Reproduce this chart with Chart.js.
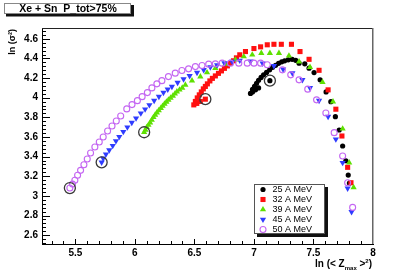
<!DOCTYPE html>
<html>
<head>
<meta charset="utf-8">
<script src="https://cdn.jsdelivr.net/npm/chart.js@4.4.1/dist/chart.umd.min.js"></script>
<style>
  html, body { margin: 0; padding: 0; background: #fff; }
</style>
</head>
<body>
<canvas id="chart" width="415" height="277"></canvas>
<script>
// tick labels
const xTicks = [5.5, 6, 6.5, 7, 7.5, 8];
const yTicks = [2.6, 2.8, 3, 3.2, 3.4, 3.6, 3.8, 4, 4.2, 4.4, 4.6];
const seriesNames = ['25 A MeV', '32 A MeV', '39 A MeV', '45 A MeV', '50 A MeV'];

// [ln(<Zmax>^2), ln(sigma^2)]
const e25 = [[7.134,4.174],[7.039,4.100],[7.013,4.080],[6.988,4.059],[6.971,4.044],[6.988,4.085],[7.005,4.115],[7.022,4.146],[7.039,4.177],[7.060,4.207],[7.081,4.233],[7.106,4.258],[7.132,4.284],[7.157,4.309],[7.182,4.330],[7.207,4.350],[7.233,4.365],[7.258,4.376],[7.288,4.386],[7.321,4.391],[7.351,4.381],[7.379,4.352],[7.427,4.345],[7.463,4.301],[7.505,4.256],[7.556,4.182],[7.606,4.059],[7.646,3.960],[7.684,3.807],[7.716,3.671],[7.745,3.508],[7.772,3.358],[7.792,3.212],[7.802,3.131]];
const e32 = [[6.592,3.985],[6.550,3.962],[6.520,3.942],[6.495,3.927],[6.508,3.962],[6.524,3.998],[6.541,4.029],[6.558,4.059],[6.575,4.090],[6.592,4.115],[6.609,4.141],[6.630,4.171],[6.651,4.197],[6.676,4.222],[6.702,4.248],[6.727,4.273],[6.752,4.299],[6.777,4.324],[6.803,4.350],[6.828,4.376],[6.853,4.406],[6.881,4.437],[6.929,4.470],[7.000,4.501],[7.056,4.518],[7.112,4.539],[7.168,4.544],[7.230,4.544],[7.315,4.544],[7.387,4.470],[7.463,4.391],[7.547,4.279],[7.623,4.080],[7.688,3.883],[7.739,3.610],[7.787,3.291],[7.815,3.134]];
const e39 = [[6.078,3.648],[6.089,3.672],[6.100,3.699],[6.114,3.722],[6.128,3.746],[6.142,3.773],[6.156,3.801],[6.170,3.825],[6.185,3.848],[6.201,3.870],[6.218,3.893],[6.233,3.915],[6.249,3.937],[6.265,3.957],[6.282,3.978],[6.300,3.998],[6.319,4.018],[6.336,4.040],[6.353,4.062],[6.375,4.081],[6.398,4.100],[6.424,4.131],[6.480,4.174],[6.550,4.215],[6.606,4.256],[6.676,4.301],[6.761,4.345],[6.845,4.386],[6.915,4.419],[6.986,4.437],[7.062,4.454],[7.134,4.454],[7.210,4.454],[7.294,4.427],[7.379,4.368],[7.471,4.311],[7.576,4.159],[7.664,3.960],[7.745,3.684],[7.800,3.338],[7.837,3.087]];
const e45 = [[5.721,3.342],[5.734,3.383],[5.757,3.424],[5.785,3.467],[5.814,3.511],[5.841,3.559],[5.869,3.603],[5.903,3.654],[5.937,3.699],[5.974,3.746],[6.010,3.791],[6.050,3.842],[6.086,3.883],[6.122,3.926],[6.162,3.970],[6.202,4.011],[6.240,4.052],[6.276,4.085],[6.311,4.113],[6.359,4.154],[6.409,4.189],[6.460,4.222],[6.522,4.256],[6.578,4.284],[6.634,4.311],[6.691,4.332],[6.752,4.352],[6.817,4.368],[6.881,4.379],[6.971,4.370],[7.073,4.350],[7.168,4.324],[7.245,4.290],[7.323,4.250],[7.407,4.182],[7.471,4.100],[7.547,3.970],[7.623,3.807],[7.688,3.577],[7.745,3.338],[7.787,3.077],[7.820,2.838]];
const e50 = [[5.454,3.080],[5.476,3.120],[5.496,3.160],[5.519,3.210],[5.544,3.260],[5.572,3.317],[5.600,3.376],[5.628,3.437],[5.664,3.498],[5.701,3.549],[5.734,3.600],[5.771,3.661],[5.808,3.712],[5.844,3.763],[5.881,3.814],[5.932,3.886],[5.976,3.930],[6.021,3.970],[6.061,4.011],[6.105,4.052],[6.143,4.100],[6.185,4.141],[6.227,4.174],[6.282,4.215],[6.339,4.250],[6.395,4.277],[6.451,4.294],[6.508,4.317],[6.564,4.328],[6.620,4.342],[6.676,4.345],[6.733,4.352],[6.803,4.352],[6.873,4.352],[6.944,4.352],[7.000,4.352],[7.056,4.352],[7.112,4.335],[7.239,4.284],[7.309,4.233],[7.379,4.182],[7.452,4.087],[7.526,3.978],[7.604,3.845],[7.674,3.644],[7.745,3.406],[7.787,3.134],[7.829,2.883]];

// circled first points
const startX = [7.134, 6.592, 6.078, 5.721, 5.454];
const startY = [4.174, 3.985, 3.648, 3.342, 3.080];

const FONT = '"Liberation Sans", Arial, Helvetica, sans-serif';

function toXY(arr) {
    return arr.map(p => ({ x: p[0], y: p[1] }));
}

const styles = [
    { pointStyle: 'circle',   pointRadius: 2.6, backgroundColor: '#000000', borderColor: '#000000', borderWidth: 0 },
    { pointStyle: 'rect',     pointRadius: 3.6, backgroundColor: '#ff1010', borderColor: '#ff1010', borderWidth: 0 },
    { pointStyle: 'triangle', pointRadius: 3.6, backgroundColor: '#5ee000', borderColor: '#5ee000', borderWidth: 0 },
    { pointStyle: 'triangle', pointRadius: 3.6, rotation: 180, backgroundColor: '#2f3cff', borderColor: '#2f3cff', borderWidth: 0 },
    { pointStyle: 'circle',   pointRadius: 3.0, backgroundColor: 'rgba(0,0,0,0)', borderColor: '#c466f2', borderWidth: 1.1 }
];

const allSeries = [e25, e32, e39, e45, e50];
const datasets = allSeries.map((s, i) => Object.assign({
    label: seriesNames[i],
    data: toXY(s),
    showLine: false,
    order: 5 - i
}, styles[i], { pointHoverRadius: styles[i].pointRadius }));

datasets.push({
    label: 'start',
    data: startX.map((x, i) => ({ x: x, y: startY[i] })),
    showLine: false,
    order: 0,
    pointStyle: 'circle',
    pointRadius: 5.5,
    backgroundColor: 'rgba(0,0,0,0)',
    borderColor: '#3a3a3a',
    borderWidth: 1.3
});

function drawMarker(ctx, st, x, y) {
    if (Chart.helpers && Chart.helpers.drawPoint) {
        ctx.save();
        ctx.fillStyle = st.backgroundColor;
        ctx.strokeStyle = st.borderColor;
        ctx.lineWidth = st.borderWidth;
        Chart.helpers.drawPoint(ctx, {
            pointStyle: st.pointStyle, radius: st.pointRadius,
            rotation: st.rotation || 0, borderWidth: st.borderWidth
        }, x, y);
        ctx.restore();
    }
}

// ROOT-like frame, inward ticks, title box, legend and axis titles
const rootDecor = {
    id: 'rootDecor',
    afterDraw(chart) {
        const ctx = chart.ctx;
        const a = chart.chartArea;
        const xs = chart.scales.x, ys = chart.scales.y;
        ctx.save();

        // frame top and right
        ctx.lineWidth = 1;
        ctx.strokeStyle = '#222';
        ctx.beginPath();
        ctx.moveTo(a.left, a.top + 0.5);
        ctx.lineTo(a.right, a.top + 0.5);
        ctx.stroke();
        ctx.strokeStyle = '#666';
        ctx.lineWidth = 1.5;
        ctx.beginPath();
        ctx.moveTo(a.right - 0.25, a.top);
        ctx.lineTo(a.right - 0.25, a.bottom);
        ctx.stroke();

        // inward ticks
        ctx.strokeStyle = '#000';
        ctx.lineWidth = 1;
        ctx.beginPath();
        for (let i = 53; i <= 79; i++) {
            const px = Math.round(xs.getPixelForValue(i / 10)) + 0.5;
            const len = i % 5 === 0 ? 5 : 3;
            ctx.moveTo(px, a.bottom);
            ctx.lineTo(px, a.bottom - len);
        }
        for (let i = 63; i <= 117; i++) {
            const py = Math.round(ys.getPixelForValue(i * 0.04)) + 0.5;
            const len = i % 5 === 0 ? 8 : 4;
            ctx.moveTo(a.left, py);
            ctx.lineTo(a.left + len, py);
        }
        ctx.stroke();

        // title box
        ctx.fillStyle = '#111';
        ctx.fillRect(6, 5, 128, 11.5);
        ctx.fillStyle = '#fff';
        ctx.fillRect(4, 3, 127, 11);
        ctx.strokeStyle = '#888';
        ctx.lineWidth = 1;
        ctx.strokeRect(4.5, 3.5, 126, 10);
        ctx.fillStyle = '#000';
        ctx.font = 'bold 10.5px ' + FONT;
        ctx.textAlign = 'center';
        ctx.textBaseline = 'middle';
        ctx.fillText('Xe + Sn  P_tot>75%', 68, 9);

        // legend box
        ctx.fillStyle = '#111';
        ctx.fillRect(257, 187, 71, 50);
        ctx.fillStyle = '#fff';
        ctx.fillRect(254, 184, 71, 50);
        ctx.strokeStyle = '#555';
        ctx.strokeRect(254.5, 184.5, 70, 49);
        ctx.font = '9px ' + FONT;
        ctx.textAlign = 'left';
        ctx.textBaseline = 'middle';
        seriesNames.forEach((name, i) => {
            const yy = 189.5 + i * 10;
            drawMarker(ctx, styles[i], 263, yy);
            ctx.fillStyle = '#000';
            ctx.fillText(name, 272.5, yy);
        });

        // y axis title
        ctx.save();
        ctx.translate(13, 29);
        ctx.rotate(-Math.PI / 2);
        ctx.fillStyle = '#000';
        ctx.font = 'bold 9px ' + FONT;
        ctx.textAlign = 'right';
        ctx.textBaseline = 'middle';
        ctx.fillText('ln (\u03C3\u00B2)', 0, 0);
        ctx.restore();

        // x axis title with subscript / superscript
        const parts = [
            { t: 'ln (< Z', f: 'bold 10px ' + FONT, dy: 0 },
            { t: 'max', f: 'bold 6px ' + FONT, dy: 2.5 },
            { t: ' >', f: 'bold 10px ' + FONT, dy: 0 },
            { t: '2', f: 'bold 6px ' + FONT, dy: -4.5 },
            { t: ')', f: 'bold 10px ' + FONT, dy: 0 }
        ];
        let total = 0;
        parts.forEach(p => { ctx.font = p.f; p.w = ctx.measureText(p.t).width; total += p.w; });
        let cx = 372 - total;
        ctx.textAlign = 'left';
        ctx.textBaseline = 'alphabetic';
        ctx.fillStyle = '#000';
        parts.forEach(p => { ctx.font = p.f; ctx.fillText(p.t, cx, 267 + p.dy); cx += p.w; });

        ctx.restore();
    }
};

new Chart(document.getElementById('chart'), {
    type: 'scatter',
    data: { datasets: datasets },
    options: {
        responsive: false,
        animation: false,
        devicePixelRatio: 1,
        layout: { padding: { top: 28, right: 42, left: 0, bottom: 0 } },
        plugins: {
            legend: { display: false },
            tooltip: { enabled: false },
            title: { display: false }
        },
        scales: {
            x: {
                type: 'linear',
                min: 5.22,
                max: 8.0,
                afterFit: s => { s.height = 33; },
                afterBuildTicks: s => { s.ticks = xTicks.map(v => ({ value: v })); },
                grid: { display: false, drawTicks: false },
                border: { display: true, color: '#000', width: 1 },
                ticks: {
                    padding: 3,
                    maxRotation: 0,
                    autoSkip: false,
                    color: '#000',
                    font: { family: FONT, size: 10, weight: 'bold' },
                    callback: v => String(+v.toFixed(1))
                }
            },
            y: {
                type: 'linear',
                min: 2.51,
                max: 4.71,
                afterFit: s => { s.width = 42; },
                afterBuildTicks: s => { s.ticks = yTicks.map(v => ({ value: v })); },
                grid: { display: false, drawTicks: false },
                border: { display: true, color: '#000', width: 1 },
                ticks: {
                    padding: 4,
                    autoSkip: false,
                    color: '#000',
                    font: { family: FONT, size: 10, weight: 'bold' },
                    callback: v => String(+v.toFixed(1))
                }
            }
        }
    },
    plugins: [rootDecor]
});
</script>
</body>
</html>
